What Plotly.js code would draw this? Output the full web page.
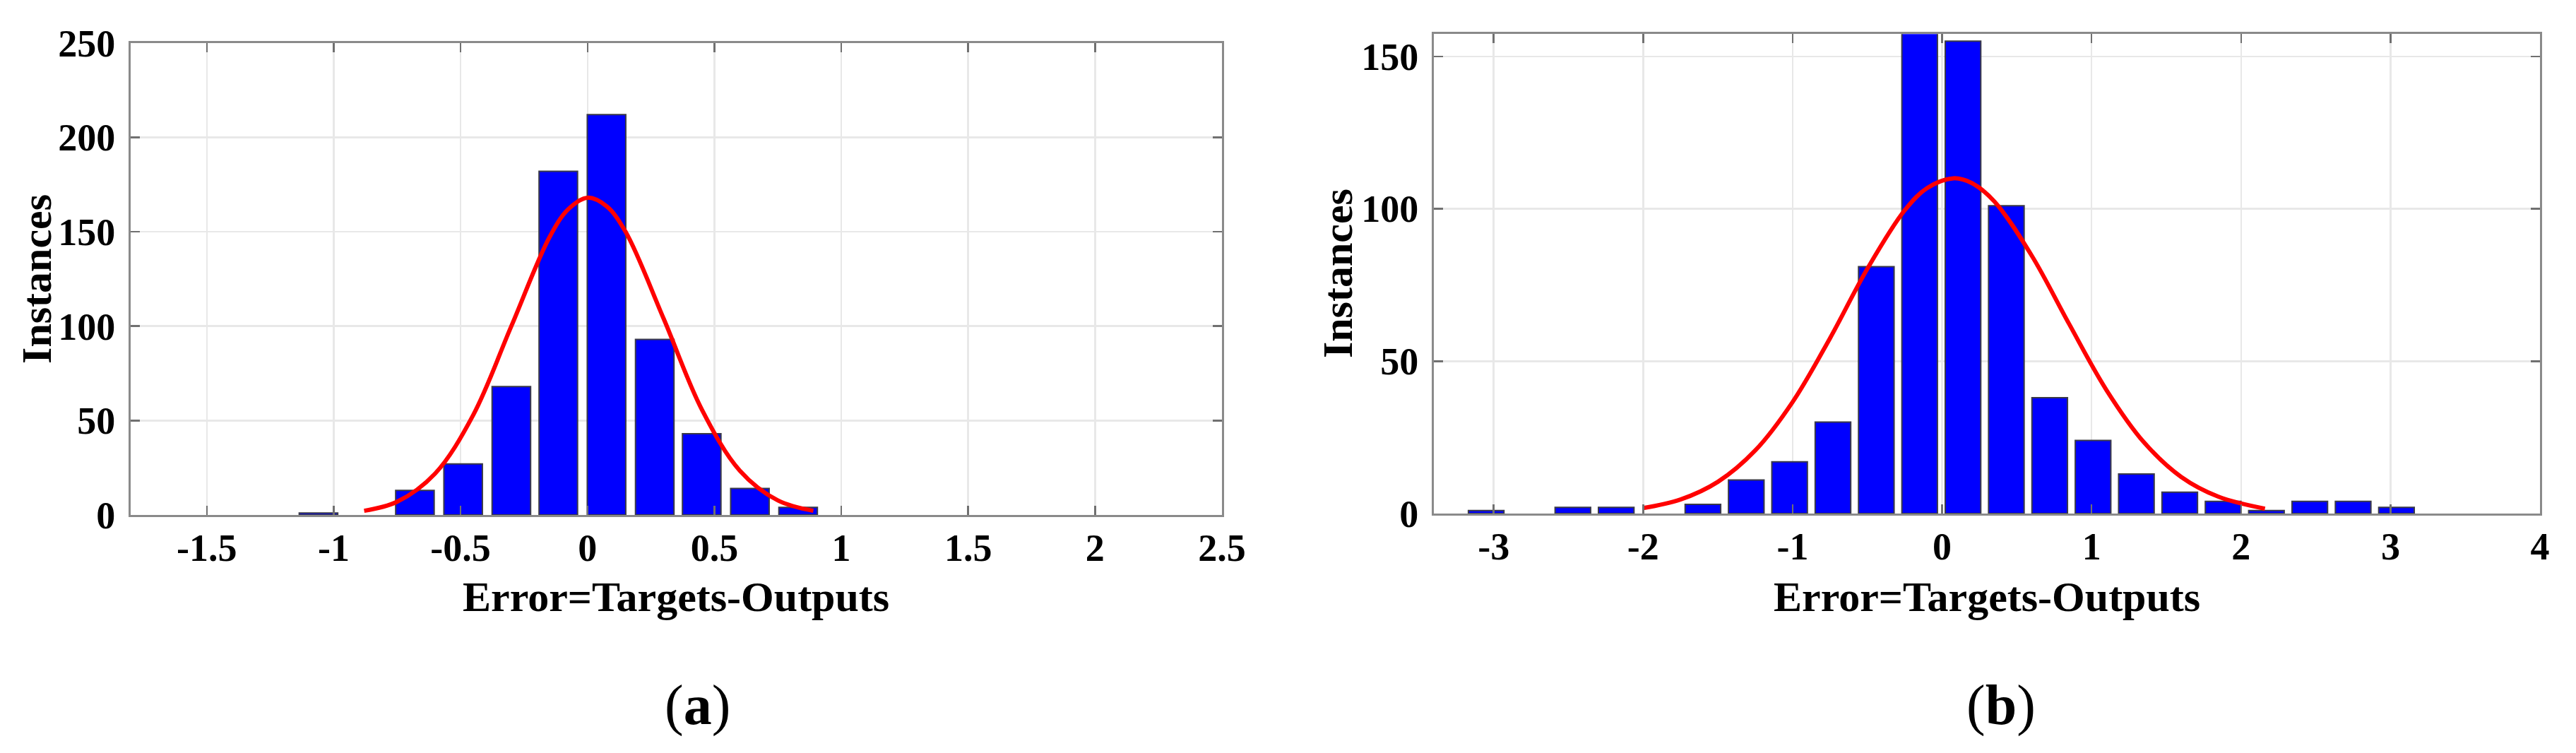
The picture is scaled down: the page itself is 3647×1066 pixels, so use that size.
<!DOCTYPE html>
<html>
<head>
<meta charset="utf-8">
<script src="https://cdn.plot.ly/plotly-3.0.1.min.js"></script>
<style>
  html, body { margin: 0; padding: 0; background: #fff; }
  #chart { width: 3647px; height: 1066px; }
</style>
</head>
<body>
<div id="chart"></div>
<script>
// ---- data ----

// (a) error histogram
const binsA = [-1.06, -0.68, -0.49, -0.30, -0.115, 0.075, 0.265, 0.45, 0.64, 0.83];
const countsA = [1, 13, 27, 68, 182, 212, 93, 43, 14, 4];
// (a) fitted curve, sampled by eye
const fitXA = [-0.88, -0.75, -0.6, -0.45, -0.3, -0.15, -0.075, 0, 0.075, 0.15, 0.3, 0.45, 0.6, 0.75, 0.89];
const fitYA = [2.2, 7, 22, 53, 100, 147, 162, 168, 163.5, 150, 104, 56, 23.5, 7.7, 2.2];

// (b) error histogram
const binsB = [-3.05, -2.47, -2.18, -1.60, -1.31, -1.02, -0.73, -0.44, -0.15, 0.14,
               0.43, 0.72, 1.01, 1.30, 1.59, 1.88, 2.17, 2.46, 2.75, 3.04];
const countsB = [1, 2, 2, 3, 11, 17, 30, 81, 158, 155, 101, 38, 24, 13, 7, 4, 1, 4, 4, 2];
// (b) fitted curve, sampled by eye
const fitXB = [-2.0, -1.75, -1.5, -1.25, -1.0, -0.75, -0.5, -0.25, -0.1, 0.075, 0.2, 0.35, 0.6, 0.85, 1.1, 1.35, 1.6, 1.85, 2.16];
const fitYB = [1.8, 4.6, 10.4, 20.7, 36.6, 57.5, 80.3, 99.5, 106.8, 110, 108.4, 102.4, 84.6, 62.2, 40.5, 23.4, 12.0, 5.5, 1.6];

// ticks
const xTicksA = [-1.5, -1, -0.5, 0, 0.5, 1, 1.5, 2, 2.5];
const xLabelsA = ["-1.5", "-1", "-0.5", "0", "0.5", "1", "1.5", "2", "2.5"];
const yTicksA = [0, 50, 100, 150, 200, 250];
const xTicksB = [-3, -2, -1, 0, 1, 2, 3, 4];
const xLabelsB = ["-3", "-2", "-1", "0", "1", "2", "3", "4"];
const yTicksB = [0, 50, 100, 150];

const xTitle = "Error=Targets-Outputs";
const yTitle = "Instances";
const panelLabels = ["(<b>a</b>)", "(<b>b</b>)"];

// ---- styling ----
const SERIF = '"Liberation Serif", "Times New Roman", Times, serif';
const tickFont = { family: SERIF, size: 54, color: "#000", weight: "bold" };
const titleFont = { family: SERIF, size: 60, color: "#000", weight: "bold" };

function axisStyle(extra) {
  return Object.assign({
    showline: true, mirror: "ticks", linecolor: "#8a8a8a", linewidth: 3,
    ticks: "inside", ticklen: 13, tickwidth: 2.5, tickcolor: "#707070",
    showgrid: true, gridcolor: "#e8e8e8", gridwidth: 2.5,
    zeroline: false, tickfont: tickFont, fixedrange: true,
  }, extra);
}

function barTrace(x, y, xa, ya) {
  return {
    type: "bar", x: x, y: y, xaxis: xa, yaxis: ya,
    marker: { color: "#0000ff", line: { color: "#3a3a48", width: 2 } },
    hoverinfo: "x+y",
  };
}

function fitTrace(x, y, xa, ya) {
  return {
    type: "scatter", mode: "lines", x: x, y: y, xaxis: xa, yaxis: ya,
    line: { color: "#ff0000", width: 6, shape: "spline", smoothing: 1 },
    hoverinfo: "skip",
  };
}

// axis titles and panel labels sit as paper annotations so they land where the figure has them
function label(text, x, y, font, angle) {
  return {
    text: text, x: x, y: y, xref: "paper", yref: "paper",
    xanchor: "center", yanchor: "middle", showarrow: false,
    textangle: angle || 0, font: font,
  };
}

const traces = [
  barTrace(binsA, countsA, "x", "y"),
  fitTrace(fitXA, fitYA, "x", "y"),
  barTrace(binsB, countsB, "x2", "y2"),
  fitTrace(fitXB, fitYB, "x2", "y2"),
];

const panelFont = { family: SERIF, size: 80, color: "#000" };

const layout = {
  width: 3647, height: 1066,
  margin: { l: 0, r: 0, t: 0, b: 0 },
  paper_bgcolor: "#fff", plot_bgcolor: "#fff",
  showlegend: false, bargap: 0.18,
  xaxis: axisStyle({
    domain: [0.05073, 0.47436], range: [-1.8, 2.5], anchor: "y",
    tickvals: xTicksA, ticktext: xLabelsA, ticklabelstandoff: -3,
  }),
  yaxis: axisStyle({
    domain: [0.31614, 0.94306], range: [0, 250], anchor: "x",
    tickvals: yTicksA, ticklabelstandoff: 8,
  }),
  xaxis2: axisStyle({
    domain: [0.55662, 0.98602], range: [-3.4, 4], anchor: "y2",
    tickvals: xTicksB, ticktext: xLabelsB, ticklabelstandoff: -3,
  }),
  yaxis2: axisStyle({
    domain: [0.31801, 0.95469], range: [0, 157.3], anchor: "x2",
    tickvals: yTicksB, ticklabelstandoff: 8,
  }),
  annotations: [
    label(xTitle, 0.2625, 0.2073, titleFont),
    label(xTitle, 0.7713, 0.2073, titleFont),
    label(yTitle, 0.01426, 0.6295, titleFont, -90),
    label(yTitle, 0.5192, 0.6364, titleFont, -90),
    label(panelLabels[0], 0.2709, 0.063, panelFont),
    label(panelLabels[1], 0.7768, 0.063, panelFont),
  ],
};

Plotly.newPlot("chart", traces, layout, { staticPlot: true, displayModeBar: false });
</script>
</body>
</html>
